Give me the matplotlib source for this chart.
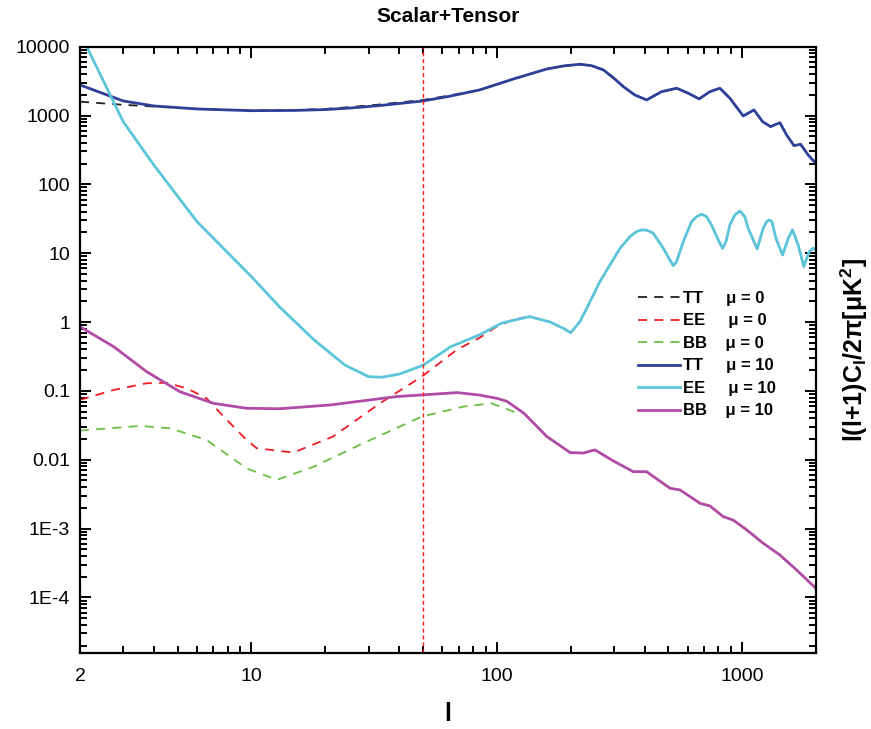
import numpy as np
import matplotlib
matplotlib.use("Agg")
import matplotlib.pyplot as plt
from matplotlib.ticker import FixedLocator, FixedFormatter, LogLocator, NullFormatter

plt.rcParams['font.family'] = ['Liberation Sans', 'DejaVu Sans']
plt.rcParams['mathtext.fontset'] = 'custom'
plt.rcParams['mathtext.rm'] = 'Liberation Sans:bold'
plt.rcParams['mathtext.it'] = 'Liberation Sans:bold'
plt.rcParams['mathtext.bf'] = 'Liberation Sans:bold'

# TT: low-l parts differ, high-l parts shared
l_tt_low = [2, 3, 4, 6, 10, 15, 20, 25, 33, 50, 64]
tt10_low = [2780, 1627, 1376, 1245, 1175, 1185, 1220, 1280, 1390, 1625, 1900]
tt0_low = [1588, 1430, 1350, 1250, 1180, 1195, 1245, 1320, 1440, 1680, 1950]
l_tt_high = [85, 117, 160, 187, 218, 243, 272, 298, 328, 365, 408, 469, 541, 603,
             668, 738, 811, 891, 1010, 1117, 1211, 1305, 1425, 1517, 1626, 1730,
             1858, 2000]
tt_high = [2350, 3394, 4742, 5250, 5550, 5300, 4590, 3548, 2624, 1988, 1682, 2218,
           2490, 2105, 1740, 2218, 2490, 1782, 985, 1204, 814, 689, 787, 522, 365,
           382, 267, 200]

# EE
l_ee10_low = [2, 3, 4, 6, 10, 13, 18, 24, 30, 34, 40, 50, 65, 85, 105]
ee10_low = [16000, 815, 191, 28.7, 4.56, 1.67, 0.55, 0.238, 0.161, 0.158, 0.175,
            0.235, 0.44, 0.65, 0.97]
l_ee0_low = [2, 2.74, 3.74, 4.5, 5.45, 6.56, 7.93, 9.55, 10.5, 14.8, 21.5, 33.4,
             49.4, 68.6, 85, 100, 118]
ee0_low = [0.074, 0.103, 0.129, 0.131, 0.109, 0.078, 0.038, 0.0194, 0.0147, 0.0127,
           0.0217, 0.066, 0.161, 0.394, 0.59, 0.86, 1.1]
l_ee_high = [136, 165, 188, 200, 218, 240, 263, 289, 318, 349, 371, 389, 410, 434,
             477, 507, 524, 541, 575, 622, 652, 684, 716, 750, 805, 832, 859, 891,
             934, 979, 1025, 1058, 1151, 1218, 1259, 1289, 1322, 1372, 1461, 1541,
             1604, 1691, 1783, 1875, 1946, 2000]
ee_high = [1.20, 1.0, 0.80, 0.70, 1.01, 1.98, 3.86, 6.75, 11.8, 17.4, 20.6, 21.8,
           21.5, 19.5, 11.8, 8.0, 6.6, 7.6, 14.7, 28.7, 34, 36.8, 34, 25.7, 14.7,
           11.8, 14.7, 25.7, 36, 41.1, 34, 23, 11.5, 23, 28.7, 30.4, 28.7, 16.5,
           9.4, 16.5, 21.8, 13.2, 6.4, 10.5, 11.8, 11.3]

# BB
l_bb10_low = [2, 2.74, 3.74, 5.1, 7, 9.5, 13, 21, 39, 69, 85, 100, 110]
bb10_low = [0.857, 0.44, 0.19, 0.0975, 0.066, 0.056, 0.055, 0.0625, 0.0826, 0.0944,
            0.087, 0.078, 0.0705]
l_bb0_low = [2, 3.52, 4.66, 6.56, 9.55, 12.7, 17.9, 28.6, 49.4, 73, 95, 117]
bb0_low = [0.0265, 0.031, 0.0286, 0.0194, 0.0075, 0.0051, 0.0079, 0.0174, 0.0423,
           0.059, 0.066, 0.050]
l_bb_high = [129, 160, 199, 225, 251, 300, 360, 408, 508, 558, 673, 739, 837, 919,
             1042, 1218, 1425, 1667, 2000]
bb_high = [0.0473, 0.0217, 0.0127, 0.0125, 0.0139, 0.0095, 0.0067, 0.0067, 0.00385,
           0.00364, 0.00233, 0.00213, 0.00149, 0.00133, 0.00096, 0.000612, 0.000413,
           0.00025, 0.000135]

l_marker = 50

ytick_vals = [1e-4, 1e-3, 1e-2, 1e-1, 1, 10, 100, 1000, 10000]
ytick_labels = ["1E-4", "1E-3", "0.01", "0.1", "1", "10", "100", "1000", "10000"]
xtick_vals = [2, 10, 100, 1000]
xtick_labels = ["2", "10", "100", "1000"]

fig = plt.figure(figsize=(8.71, 7.29), dpi=100)
ax = fig.add_axes([0.0918, 0.1043, 0.8451, 0.8317])

dash = (5, 4)
ax.plot(l_tt_low + l_tt_high, tt0_low + tt_high, color="#231f20", lw=1.3,
        dashes=dash, label="TT     \u03bc = 0")
ax.plot(l_ee0_low + l_ee_high, ee0_low + ee_high, color="#ed1c24", lw=1.3,
        dashes=dash, label="EE     \u03bc = 0")
ax.plot(l_bb0_low + l_bb_high, bb0_low + bb_high, color="#6abd45", lw=1.3,
        dashes=dash, label="BB    \u03bc = 0")
ax.plot(l_tt_low + l_tt_high, tt10_low + tt_high, color="#2e3f97", lw=2.0,
        label="TT     \u03bc = 10")
ax.plot(l_ee10_low + l_ee_high, ee10_low + ee_high, color="#5bc5da", lw=2.0,
        label="EE     \u03bc = 10")
ax.plot(l_bb10_low + l_bb_high, bb10_low + bb_high, color="#b04ca6", lw=2.0,
        label="BB    \u03bc = 10")

ax.axvline(l_marker, color="#ff1a1a", lw=1.0, dashes=(3, 2))

ax.set_xscale("log")
ax.set_yscale("log")
ax.set_xlim(2, 2000)
ax.set_ylim(1.56e-5, 1e4)

ax.xaxis.set_major_locator(FixedLocator(xtick_vals))
ax.xaxis.set_major_formatter(FixedFormatter(xtick_labels))
ax.xaxis.set_minor_locator(LogLocator(base=10, subs=np.arange(2, 10)))
ax.xaxis.set_minor_formatter(NullFormatter())
ax.yaxis.set_major_locator(FixedLocator(ytick_vals))
ax.yaxis.set_major_formatter(FixedFormatter(ytick_labels))
ax.yaxis.set_minor_locator(LogLocator(base=10, subs=np.arange(2, 10), numticks=20))
ax.yaxis.set_minor_formatter(NullFormatter())

ax.tick_params(which="both", direction="in", top=True, right=True, width=1.4,
               labelsize=14)
ax.tick_params(which="major", length=8)
ax.tick_params(which="minor", length=5)
ax.tick_params(axis="x", which="major", pad=11)
ax.tick_params(axis="y", which="major", pad=7)
for s in ax.spines.values():
    s.set_linewidth(1.6)

ax.set_title("Scalar+Tensor", fontsize=15, fontweight="bold", pad=18)
ax.set_xlabel("l", fontsize=18, fontweight="bold", labelpad=12)
ax.yaxis.set_label_position("right")
ax.set_ylabel("l(l+1)C$_l$/2\u03c0[\u03bcK$^2$]", fontsize=18, fontweight="bold",
              labelpad=16)

leg = ax.legend(loc="upper left", bbox_to_anchor=(0.738, 0.622), frameon=False,
                prop={"weight": "bold", "size": 12}, handlelength=2.5,
                handletextpad=0.18, labelspacing=0.45)

fig.savefig("out.png", dpi=100)
